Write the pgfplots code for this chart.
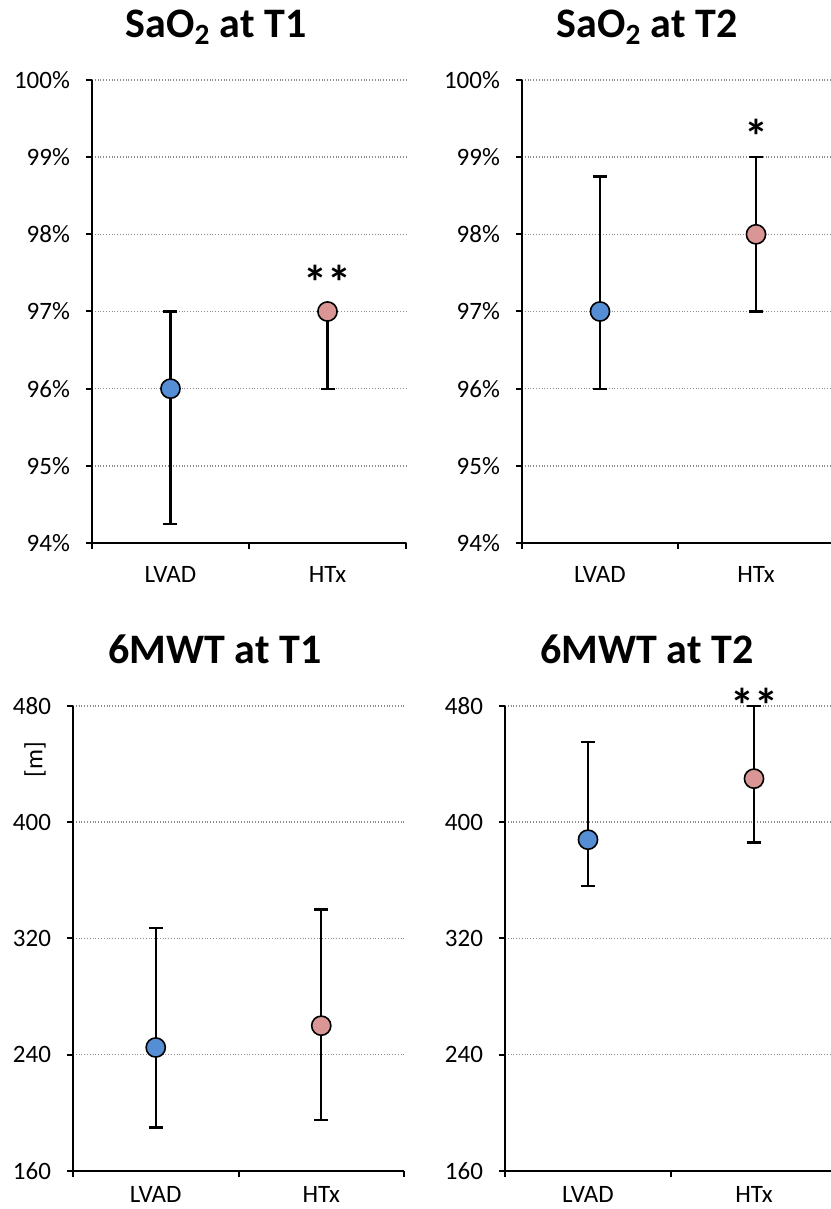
\documentclass[border=0pt]{standalone}
\usepackage{fontspec}
\setmainfont{Carlito}
\usepackage{pgfplots}
\pgfplotsset{compat=1.18}

\definecolor{lvadblue}{RGB}{85,142,213}
\definecolor{htxpink}{RGB}{217,150,148}

% shared look of the four panels
\pgfplotsset{
  panel/.style={
    scale only axis,
    anchor=south west,
    axis x line=bottom, axis y line=left,
    axis line style={-, line width=1.1pt},
    xmin=0, xmax=2,
    xtick={0,1,2}, xticklabels={},
    extra x ticks={0.5,1.5},
    extra x tick labels={LVAD,HTx},
    extra x tick style={major tick length=0pt, grid=none},
    tick align=outside,
    major tick length=3pt,
    every tick/.style={black, line width=1pt},
    ymajorgrids,
    major grid style={densely dotted, gray!90, line width=0.75pt},
    tick label style={font=\fontsize{12.5pt}{14pt}\selectfont},
    xticklabel style={yshift=-8pt},
    yticklabel style={xshift=-4.5pt},
    /pgf/number format/assume math mode=true,
    clip=false,
  },
  dots/.style={
    only marks, mark=*, mark size=4.8pt,
    mark options={draw=black, line width=0.8pt, fill=#1},
    error bars/.cd, y dir=both, y explicit,
    error bar style={black, line width=1.1pt},
    error mark options={black, line width=1.1pt, mark size=3.5pt, rotate=90},
  },
}
\tikzset{stars/.style={anchor=base, yshift=-13.5pt, font=\bfseries\fontsize{24pt}{26pt}\selectfont}}

\begin{document}
\begin{tikzpicture}
\useasboundingbox (0,0) rectangle (415pt,604.5pt);

% SaO2 at T1
\begin{axis}[panel, at={(46pt,333pt)}, width=157pt, height=231.5pt,
  ymin=94, ymax=100, ytick={94,95,...,100},
  yticklabel={\pgfmathprintnumber[fixed,precision=0]{\tick}\%}]
  \addplot[dots=lvadblue] coordinates {(0.5,96) += (0,1) -= (0,1.75)};
  \addplot[dots=htxpink] coordinates {(1.5,97) += (0,0) -= (0,1)};
  \node[stars] at (axis cs:1.5,97.5) {**};
\end{axis}

% SaO2 at T2
\begin{axis}[panel, at={(261pt,333pt)}, width=156pt, height=231.5pt,
  ymin=94, ymax=100, ytick={94,95,...,100},
  yticklabel={\pgfmathprintnumber[fixed,precision=0]{\tick}\%}]
  \addplot[dots=lvadblue] coordinates {(0.5,97) += (0,1.75) -= (0,1)};
  \addplot[dots=htxpink] coordinates {(1.5,98) += (0,1) -= (0,1)};
  \node[stars] at (axis cs:1.5,99.4) {*};
\end{axis}

% 6MWT at T1
\begin{axis}[panel, at={(36.5pt,19pt)}, width=165.5pt, height=232.5pt,
  ymin=160, ymax=480, ytick={160,240,...,480},
  xticklabel style={yshift=4pt}]
  \addplot[dots=lvadblue] coordinates {(0.5,245) += (0,82) -= (0,55)};
  \addplot[dots=htxpink] coordinates {(1.5,260) += (0,80) -= (0,65)};
\end{axis}

% 6MWT at T2
\begin{axis}[panel, at={(252.5pt,19pt)}, width=166pt, height=232.5pt,
  ymin=160, ymax=480, ytick={160,240,...,480},
  xticklabel style={yshift=4pt}]
  \addplot[dots=lvadblue] coordinates {(0.5,388) += (0,67) -= (0,32)};
  \addplot[dots=htxpink] coordinates {(1.5,430) += (0,50) -= (0,44)};
  \node[stars] at (axis cs:1.5,487) {**};
\end{axis}

% panel titles and unit label
\node[anchor=base, font=\bfseries\fontsize{21pt}{24pt}\selectfont] at (108pt,585.5pt) {SaO\textsubscript{2} at T1};
\node[anchor=base, font=\bfseries\fontsize{21pt}{24pt}\selectfont] at (323.5pt,585.5pt) {SaO\textsubscript{2} at T2};
\node[anchor=base, font=\bfseries\fontsize{21pt}{24pt}\selectfont] at (107.5pt,272.5pt) {6MWT at T1};
\node[anchor=base, font=\bfseries\fontsize{21pt}{24pt}\selectfont] at (323.5pt,272.5pt) {6MWT at T2};
\node[rotate=90, font=\fontsize{12.5pt}{14pt}\selectfont] at (17.5pt,224.5pt) {[m]};
\end{tikzpicture}
\end{document}
